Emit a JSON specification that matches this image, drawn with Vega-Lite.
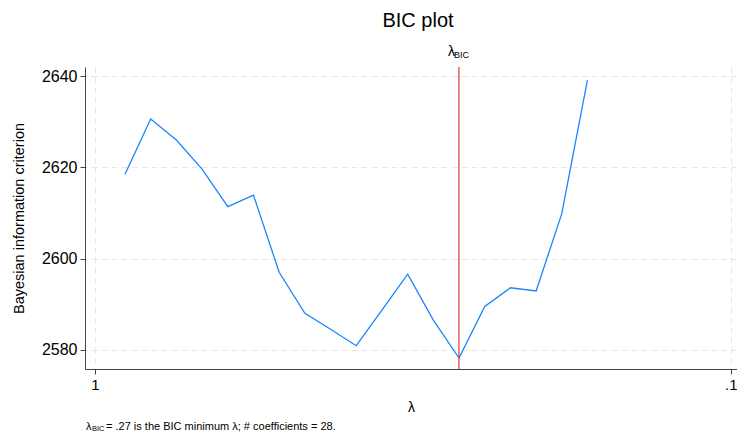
{
  "$schema": "https://vega.github.io/schema/vega-lite/v6.json",
  "autosize": "none",
  "width": 652,
  "height": 302,
  "padding": {"left": 85, "top": 67, "right": 0, "bottom": 63},
  "background": "white",
  "config": {
    "font": "Liberation Sans",
    "view": {"stroke": null},
    "axis": {"labelFont": "Liberation Sans", "titleFont": "Liberation Sans", "labelColor": "#000", "titleColor": "#000", "titleFontWeight": "normal"}
  },
  "title": {"text": "BIC plot", "fontSize": 20, "fontWeight": "normal", "font": "Liberation Sans", "color": "#000", "anchor": "middle", "offset": 14, "dx": 7},
  "datasets": {
    "bic": [
      {"lambda": 0.8971, "bic": 2618.5},
      {"lambda": 0.8174, "bic": 2630.6},
      {"lambda": 0.7447, "bic": 2626.0},
      {"lambda": 0.6786, "bic": 2619.6},
      {"lambda": 0.6183, "bic": 2611.4},
      {"lambda": 0.5633, "bic": 2613.9},
      {"lambda": 0.5133, "bic": 2597.0},
      {"lambda": 0.4677, "bic": 2588.0},
      {"lambda": 0.4261, "bic": 2584.5},
      {"lambda": 0.3883, "bic": 2580.9},
      {"lambda": 0.3538, "bic": 2588.7},
      {"lambda": 0.3223, "bic": 2596.6},
      {"lambda": 0.2937, "bic": 2586.5},
      {"lambda": 0.2676, "bic": 2578.2},
      {"lambda": 0.2438, "bic": 2589.5},
      {"lambda": 0.2222, "bic": 2593.6},
      {"lambda": 0.2024, "bic": 2592.9},
      {"lambda": 0.1845, "bic": 2609.8},
      {"lambda": 0.1681, "bic": 2639.1}
    ],
    "one": [{"lambdaBIC": 0.2677}]
  },
  "data": {"name": "bic"},
  "layer": [
    {
      "mark": {"type": "line", "color": "#1a85ff", "strokeWidth": 1.3},
      "encoding": {
        "x": {
          "field": "lambda", "type": "quantitative",
          "scale": {"type": "log", "domain": [0.0978, 1.0369], "reverse": true, "nice": false},
          "axis": {
            "values": [0.1, 1], "labelExpr": "datum.value >= 0.5 ? '1' : '.1'",
            "title": "λ", "titleFontSize": 14, "titlePadding": 8,
            "labelFontSize": 15, "labelPadding": 3, "tickSize": 5,
            "domainColor": "#444", "tickColor": "#444",
            "grid": true, "gridDash": [6, 4], "gridColor": "#e6e6e6", "labelFlush": false
          }
        },
        "y": {
          "field": "bic", "type": "quantitative",
          "scale": {"domain": [2575.8, 2642], "nice": false, "zero": false},
          "axis": {
            "values": [2580, 2600, 2620, 2640], "format": "d",
            "title": "Bayesian information criterion", "titleFontSize": 14.5, "titlePadding": 15,
            "labelFontSize": 16, "labelPadding": 3, "tickSize": 5,
            "domainColor": "#444", "tickColor": "#444",
            "grid": true, "gridDash": [6, 4], "gridColor": "#e6e6e6"
          }
        }
      }
    },
    {
      "data": {"name": "one"},
      "mark": {"type": "rule", "color": "#d62728", "strokeWidth": 1.1},
      "encoding": {"x": {"field": "lambdaBIC", "type": "quantitative"}}
    },
    {
      "data": {"name": "one"},
      "mark": {"type": "text", "align": "right", "baseline": "alphabetic", "fontSize": 14, "dx": -4, "font": "Liberation Sans"},
      "encoding": {"x": {"field": "lambdaBIC", "type": "quantitative"}, "y": {"datum": 2644.4, "type": "quantitative"}, "text": {"value": "λ"}}
    },
    {
      "data": {"name": "one"},
      "mark": {"type": "text", "align": "left", "baseline": "alphabetic", "fontSize": 9, "dx": -5, "dy": 2, "font": "Liberation Sans"},
      "encoding": {"x": {"field": "lambdaBIC", "type": "quantitative"}, "y": {"datum": 2644.4, "type": "quantitative"}, "text": {"value": "BIC"}}
    },
    {
      "data": {"name": "one"},
      "mark": {"type": "text", "align": "left", "baseline": "alphabetic", "fontSize": 11, "font": "Liberation Sans"},
      "encoding": {"x": {"datum": 1.0331, "type": "quantitative"}, "y": {"datum": 2562.5, "type": "quantitative"}, "text": {"value": "λ"}}
    },
    {
      "data": {"name": "one"},
      "mark": {"type": "text", "align": "left", "baseline": "alphabetic", "fontSize": 7.5, "dx": 6, "dy": 1.5, "font": "Liberation Sans"},
      "encoding": {"x": {"datum": 1.0331, "type": "quantitative"}, "y": {"datum": 2562.5, "type": "quantitative"}, "text": {"value": "BIC"}}
    },
    {
      "data": {"name": "one"},
      "mark": {"type": "text", "align": "left", "baseline": "alphabetic", "fontSize": 11, "dx": 20, "font": "Liberation Sans"},
      "encoding": {"x": {"datum": 1.0331, "type": "quantitative"}, "y": {"datum": 2562.5, "type": "quantitative"}, "text": {"value": "= .27 is the BIC minimum λ; # coefficients = 28."}}
    }
  ]
}
